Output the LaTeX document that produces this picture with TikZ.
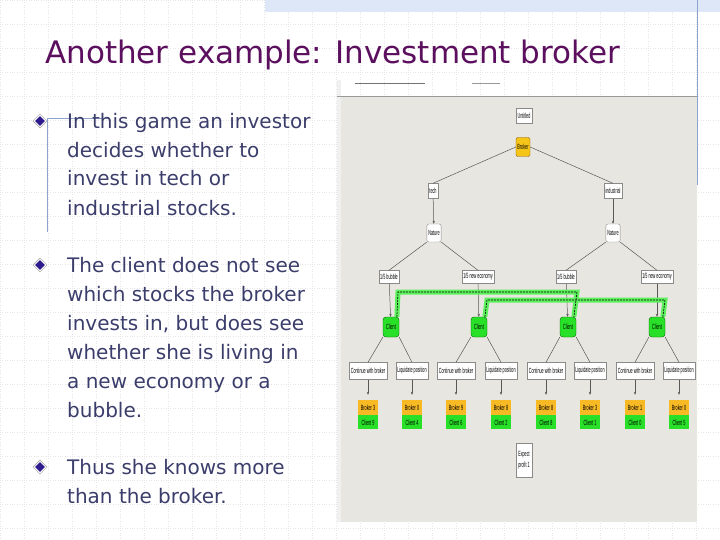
\documentclass[tikz,border=0pt]{standalone}
\usepackage{fontspec}
\usepackage{graphicx}
\setmainfont{DejaVu Sans}
\newfontfamily\gamefont{Liberation Sans}
\usetikzlibrary{arrows.meta,positioning,shapes.geometric}
\definecolor{slidetitle}{HTML}{5C0F5E}
\definecolor{slidetext}{HTML}{3B3D6B}
\definecolor{bulletblue}{HTML}{2E1A8C}
\definecolor{gridgrey}{HTML}{E6E6E6}
\definecolor{bandblue}{HTML}{DDE7F7}
\definecolor{edgeblue}{HTML}{8DA3CC}
\definecolor{panelbg}{HTML}{E8E6E0}
\definecolor{nodeedge}{HTML}{8A8A8A}
\definecolor{brkgold}{HTML}{F5C518}
\definecolor{payorange}{HTML}{F7B924}
\definecolor{cligreen}{HTML}{28E028}
\definecolor{setgreen}{HTML}{5CF05C}
\newcommand{\sq}[1]{\scalebox{0.5}[1]{#1}}
\tikzset{
  gridline/.style={gridgrey,dotted,line width=0.4pt},
  ttl/.style={anchor=base west,inner sep=0pt,text=slidetitle,font=\fontsize{31}{36}\selectfont},
  btxt/.style={anchor=base west,align=left,inner sep=0pt,text=slidetext,
               font=\fontsize{20}{29}\selectfont},
  bul/.style={diamond,fill=bulletblue,draw=white,line width=1pt,minimum size=12pt,inner sep=0pt,
              preaction={draw=black!35,line width=2.2pt}},
  lbl/.style={draw=nodeedge,fill=white,inner xsep=1.5pt,inner ysep=0pt,minimum height=15pt,
              font=\gamefont\fontsize{7.5}{8}\selectfont},
  nat/.style={lbl,rounded corners=2pt,minimum height=18pt},
  brk/.style={lbl,fill=brkgold,draw=brown!70!black,rounded corners=2pt,minimum height=19pt},
  cli/.style={lbl,fill=cligreen,draw=green!40!black,rounded corners=3pt,minimum height=20pt,minimum width=16pt},
  pb/.style={lbl,draw=none,fill=payorange,minimum width=20pt,minimum height=15pt},
  pc/.style={lbl,draw=none,fill=cligreen,minimum width=20pt,minimum height=14pt},
  gline/.style={draw=black!65,line width=0.5pt},
  garr/.style={gline,-{Stealth[length=3pt,width=2.5pt]}},
  setband/.style={setgreen,line width=5pt},
  setdash/.style={black,dashed,line width=0.6pt,dash pattern=on 2pt off 1pt},
}
\begin{document}
\begin{tikzpicture}[x=1pt,y=-1pt]
  \useasboundingbox (0,0) rectangle (720,540);
  \fill[white] (0,0) rectangle (720,540);
  % slide grid
  \foreach \g in {0,24,...,720} {\draw[gridline] (\g,0) -- (\g,540);}
  \foreach \g in {0,24,...,540} {\draw[gridline] (0,\g) -- (720,\g);}
  \fill[bandblue] (265,0) rectangle (720,12);
  \draw[edgeblue] (697,0) -- (697,185);

  % title and bullets (base = last line)
  \node[ttl] (title) at (45,64) {Another example: Investment broker};
  \draw[edgeblue,line width=0.6pt] (47,232) -- (47,118) -- (110,118);
  \node[bul] (b1) at (40,121) {};
  \node[bul] (b2) at (40,265) {};
  \node[bul] (b3) at (40,467) {};
  \node[btxt] (t1) at (67,215) {In this game an investor\\decides whether to\\invest in tech or\\industrial stocks.};
  \node[btxt] (t2) at (67,417) {The client does not see\\which stocks the broker\\invests in, but does see\\whether she is living in\\a new economy or a\\bubble.};
  \node[btxt] (t3) at (67,503) {Thus she knows more\\than the broker.};

  % screenshot panel
  \fill[panelbg] (337,96) rectangle (697,522);
  \fill[black!6] (337,80) rectangle (341,522);
  \draw[black!40] (337,96) -- (697,96);
  \draw[black!55,line width=0.8pt] (355,83) -- (425,83);
  \draw[black!40,line width=0.8pt] (472,83) -- (500,83);

  % game tree
  \node[lbl] (untitled) at (524,116) {\sq{Untitled}};
  \node[brk] (broker) at (523,147) {\sq{Broker}};
  \node[lbl] (tech) at (433,191) {\sq{tech}};
  \node[lbl] (indus) at (613,191) {\sq{industrial}};
  \node[nat] (natL) at (434,233) {\sq{Nature}};
  \node[nat] (natR) at (613,233) {\sq{Nature}};
  \node[lbl,minimum height=13pt] (bubL) at (389,277) {\sq{1/5 bubble}};
  \node[lbl,minimum height=13pt] (newL) at (478,277) {\sq{1/5 new economy}};
  \node[lbl,minimum height=13pt] (bubR) at (566,277) {\sq{1/5 bubble}};
  \node[lbl,minimum height=13pt] (newR) at (657,277) {\sq{1/5 new economy}};
  \node[cli] (cl1) at (391,327) {\sq{Client}};
  \node[cli] (cl2) at (479,327) {\sq{Client}};
  \node[cli] (cl3) at (568,327) {\sq{Client}};
  \node[cli] (cl4) at (657,327) {\sq{Client}};
  \foreach \i/\x/\act/\b/\c in {1/368/Continue with broker/3/9,2/412/Liquidate position/0/4,
      3/456/Continue with broker/9/6,4/501/Liquidate position/8/2,5/546/Continue with broker/8/8,
      6/590/Liquidate position/3/1,7/635/Continue with broker/1/0,8/679/Liquidate position/0/5}
    {\node[lbl,minimum height=17pt] (act\i) at (\x,371) {\sq{\act}};
     \node[pb] (pb\i) at (\x,407.5) {\sq{Broker \b}};
     \node[pc,below=0pt of pb\i] (pc\i) {\sq{Client \c}};
     \draw[garr,shorten >=5pt] (act\i.south) -- (pb\i.north);}
  \node[lbl,align=center,minimum width=16pt,minimum height=34pt] (expect) at (524,460)
    {\sq{Expect}\\[3pt]\sq{profit 1}};

  \draw[gline] (broker.west) -- (tech.north);
  \draw[gline] (broker.east) -- (indus.north);
  \draw[garr] (tech) -- (natL);
  \draw[garr] (indus) -- (natR);
  \draw[gline] (natL.south west) -- (bubL.north);
  \draw[gline] (natL.south east) -- (newL.north);
  \draw[gline] (natR.south west) -- (bubR.north);
  \draw[gline] (natR.south east) -- (newR.north);
  \foreach \s/\t in {bubL/cl1,newL/cl2,bubR/cl3,newR/cl4}
    {\draw[garr] (\s) -- (\t);}
  \foreach \k/\l/\r in {1/1/2,2/3/4,3/5/6,4/7/8}
    {\draw[gline] (cl\k.south west) -- (act\l.north);
     \draw[gline] (cl\k.south east) -- (act\r.north);}

  % information sets
  \coordinate (s1a) at (398,292);
  \coordinate (s1b) at (577,292);
  \coordinate (s2a) at (487,300);
  \coordinate (s2b) at (665,300);
  \foreach \st in {setband,setdash}
    {\draw[\st] (cl1.60) -- (s1a) -- (s1b) -- (cl3.60);
     \draw[\st] (cl2.60) -- (s2a) -- (s2b) -- (cl4.60);}
\end{tikzpicture}
\end{document}
